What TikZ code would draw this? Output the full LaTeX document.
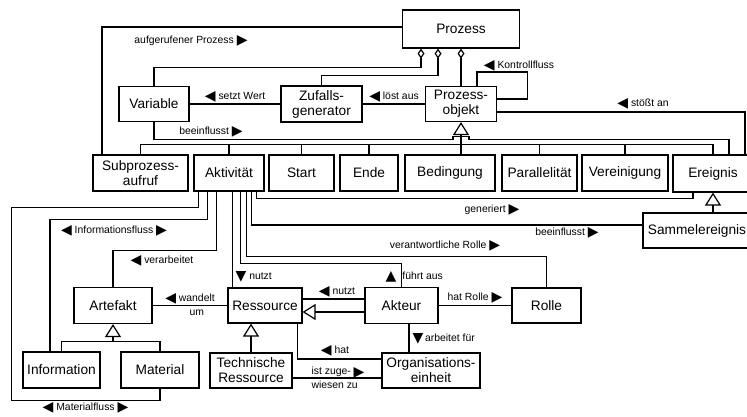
\documentclass[tikz,border=0pt]{standalone}
\usepackage{fontspec}
\setmainfont{Liberation Sans}
\newfontfamily\symfont{DejaVu Sans}
\usetikzlibrary{arrows.meta, calc}

\newcommand{\trisym}[1]{\raisebox{-1.2pt}{\symfont\fontsize{14}{14}\selectfont #1}}
\newcommand{\tril}{\trisym{◀}}
\newcommand{\trir}{\trisym{▶}}
\newcommand{\triu}{\trisym{▲}}
\newcommand{\trid}{\trisym{▼}}

\begin{document}
\begin{tikzpicture}[x=1pt, y=-1pt, line width=1.2pt,
	box/.style={draw, align=center, inner sep=0pt, font=\fontsize{13.7}{15}\selectfont, minimum height=35pt},
	lbl/.style={inner sep=0pt, align=center, font=\fontsize{10.4}{14}\selectfont},
	gen/.style={-{Triangle[open, length=13pt, width=16pt]}},
	agg/.style={{Diamond[open, length=10pt, width=7pt]}-}]

	\useasboundingbox (0,0) rectangle (747,416);

	% classes
	\node[box, minimum width=117pt, minimum height=38pt] (proz) at (461,29) {Prozess};
	\node[box, minimum width=70pt] (var) at (154,104) {Variable};
	\node[box, minimum width=81pt, minimum height=36pt] (zuf) at (321.5,104) {Zufalls-\\generator};
	\node[box, minimum width=71pt] (pobj) at (461,104) {Prozess-\\objekt};

	\node[box, minimum width=95pt, minimum height=36pt] (sub) at (140.5,173) {Subprozess-\\aufruf};
	\node[box, minimum width=70pt, minimum height=36pt] (akt) at (229,173) {Aktivität};
	\node[box, minimum width=65pt, minimum height=36pt] (start) at (301.5,173) {Start};
	\node[box, minimum width=58pt, minimum height=36pt] (ende) at (369,173) {Ende};
	\node[box, minimum width=90pt, minimum height=36pt] (bed) at (450,173) {Bedingung};
	\node[box, minimum width=75pt, minimum height=36pt] (par) at (539.5,173) {Parallelität};
	\node[box, minimum width=86pt, minimum height=36pt] (ver) at (625,173) {Vereinigung};
	\node[box, minimum width=80pt, minimum height=37pt] (ereig) at (713,173.5) {Ereignis};
	\node[box, minimum width=108pt] (samm) at (697,230.5) {Sammelereignis};

	\node[box, minimum width=78pt, minimum height=36pt] (art) at (113,305.5) {Artefakt};
	\node[box, minimum width=74pt] (ress) at (265,305.5) {Ressource};
	\node[box, minimum width=73pt, minimum height=36pt] (akteur) at (401.5,305.5) {Akteur};
	\node[box, minimum width=69pt] (rolle) at (546.5,305.5) {Rolle};

	\node[box, minimum width=77pt, minimum height=36pt] (info) at (61.5,370) {Information};
	\node[box, minimum width=78pt, minimum height=36pt] (mat) at (160,370) {Material};
	\node[box, minimum width=82pt] (tr) at (251,370.5) {Technische\\Ressource};
	\node[box, minimum width=98pt] (org) at (431,370.5) {Organisations-\\einheit};

	% Prozess
	\draw ([xshift=-38.5pt]sub.north) |- ([yshift=2pt]proz.west);
	\draw[agg] ([xshift=-40pt]proz.south) -- ++(0,19) -| (var.north);
	\draw[agg] ([xshift=-23pt]proz.south) -- ++(0,27) -| (zuf.north);
	\draw[agg] (proz.south) -- (pobj.north);
	\draw (zuf.west) -- (var.east);
	\draw (pobj.west) -- (zuf.east);
	\draw ([xshift=16pt]pobj.north) -- ++(0,-14) -| ([xshift=30pt,yshift=5pt]pobj.east) -- ([yshift=5pt]pobj.east);
	\draw ([yshift=-8pt]pobj.east) -| ([xshift=32pt]ereig.north);
	\draw (var.south) |- ($(pobj.south)+(-8,17)$) -- ++(0,-3) -- ++(16,0) -- ++(0,3) -| ([xshift=16pt]ereig.north);

	% Prozessobjekte
	\draw (sub.north) -- ++(0,-10) -| (ereig.north);
	\foreach \n in {akt, start, ende, par, ver}
		\draw (\n.north) -- ++(0,-10);
	\draw[gen] (pobj.south |- bed.north) -- (pobj.south);
	\draw[gen] (ereig.south |- samm.north) -- (ereig.south);

	% Aktivitaet
	\draw ([xshift=5pt]akt.south west) -- ++(0,16) -- ++(-187,0) -- ++(0,193) -| (mat.south);
	\draw ([xshift=14pt]akt.south west) -- ++(0,28) -| ([xshift=-11.5pt]info.north);
	\draw ([xshift=23pt]akt.south west) -- ++(0,59) -| (art.north);
	\draw ([xshift=39pt]akt.south west) -- ([xshift=5pt]ress.north west);
	\draw ([xshift=47pt]akt.south west) -- ++(0,72) -| (akteur.north);
	\draw ([xshift=53pt]akt.south west) -- ++(0,65) -| (rolle.north);
	\draw ([xshift=58pt]akt.south west) |- ([yshift=5.5pt]samm.west);
	\draw ([xshift=63pt]akt.south west) -- ++(0,7) -| ([xshift=-20pt]ereig.south);

	% Ressourcen
	\draw (art.east) -- (ress.west);
	\draw ([yshift=6.5pt]akteur.west) -- ([yshift=6.5pt]ress.east);
	\draw[gen] ([yshift=-6.5pt]akteur.west) -- ([yshift=-6.5pt]ress.east);
	\draw (akteur.east) -- (rolle.west);
	\draw ([xshift=7.5pt]akteur.south) -- ([xshift=-22pt]org.north);
	\draw ([xshift=-5pt]ress.south east) |- ([yshift=11.5pt]org.west);
	\draw ([yshift=-7.5pt]tr.east) -- ([yshift=-7.5pt]org.west);
	\draw[gen] (tr.north) -- (tr.north |- ress.south);
	\draw (info.north) -- ++(0,-10) -| (mat.north);
	\draw[gen] ($(art.south |- info.north)+(0,-10)$) -- (art.south);

	% labels
	\node[lbl] (l-aufg) at (191,41) {aufgerufener Prozess \trir};
	\node[lbl] (l-setzt) at (235,97) {\tril\ setzt Wert};
	\node[lbl] (l-loest) at (394,97) {\tril\ löst aus};
	\node[lbl] (l-kontr) at (519,66) {\tril\ Kontrollfluss};
	\node[lbl] (l-stoesst) at (643,104) {\tril\ stößt an};
	\node[lbl] (l-beeinf1) at (211,132) {beeinflusst \trir};
	\node[lbl] (l-gen) at (492,210) {generiert \trir};
	\node[lbl] (l-beeinf2) at (567,233) {beeinflusst \trir};
	\node[lbl] (l-verant) at (445,246) {verantwortliche Rolle \trir};
	\node[lbl] (l-infofl) at (114,231) {\tril\ Informationsfluss \trir};
	\node[lbl] (l-verarb) at (162,261) {\tril\ verarbeitet};
	\node[lbl, anchor=west] (l-nutzt1) at (235,277) {\trid\ nutzt};
	\node[lbl, anchor=west] (l-fuehrt) at (385,277) {\triu\hspace{6pt}führt aus};
	\node[lbl] (l-nutzt2) at (337,292) {\tril\ nutzt};
	\node[lbl] (l-rolle) at (475,298) {hat Rolle \trir};
	\node[lbl] (l-wandelt) at (190,305.5) {\tril\ \begin{tabular}[t]{@{}c@{}}wandelt\\um\end{tabular}};
	\node[lbl, anchor=west] (l-arbeit) at (412,339) {\trid\,arbeitet für};
	\node[lbl] (l-hat) at (335,351) {\tril\ hat};
	\node[lbl, align=left] (l-zuge) at (338,378) {ist zuge- \trir\\wiesen zu};
	\node[lbl] (l-matfl) at (85.5,408) {\tril\ Materialfluss \trir};
\end{tikzpicture}
\end{document}
